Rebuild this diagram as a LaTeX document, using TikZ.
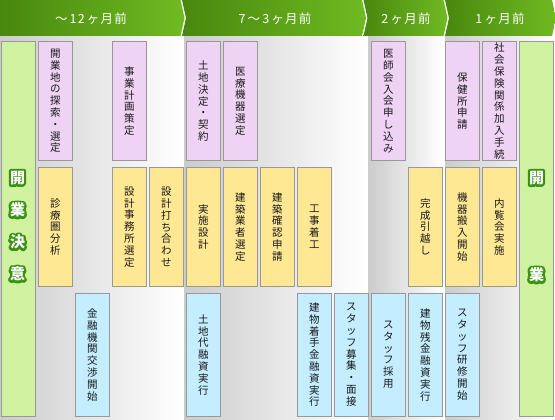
\documentclass[tikz,border=0pt]{standalone}
\usepackage{fontspec}
\newfontfamily\cjk{Noto Sans CJK JP}
\newfontfamily\gfat[BoldFeatures={FakeBold=30}]{Noto Sans CJK JP}
\newfontfamily\hdfont[LetterSpace=10]{Noto Sans CJK JP}
\definecolor{pinkc}{RGB}{239,211,245}
\definecolor{yelc}{RGB}{255,232,148}
\definecolor{bluec}{RGB}{196,238,255}
\definecolor{grnc}{RGB}{208,242,160}
\definecolor{bordc}{RGB}{152,152,152}
\definecolor{txtc}{RGB}{25,25,25}
\definecolor{hdl}{RGB}{72,136,14}
\definecolor{hdr}{RGB}{112,186,34}
\definecolor{panl}{RGB}{204,204,204}
\definecolor{olg}{RGB}{58,146,18}
\newcommand\olc[1]{\leavevmode\special{pdf:code 1 j 1 J}\rlap{\textcolor{olg}{\gfat\bfseries #1}}\textcolor{white}{\cjk\bfseries #1}}
\tikzset{
 box/.style={draw=bordc, line width=1.1pt, inner sep=0pt, minimum width=34.6pt,
   anchor=north west, align=center, font=\cjk\fontsize{10.5}{11.8}\selectfont, text=txtc},
 pinkbox/.style={box, fill=pinkc, minimum height=119.4pt},
 yelbox/.style={box, fill=yelc, minimum height=119.4pt},
 bluebox/.style={box, fill=bluec, minimum height=123.3pt},
 greenbox/.style={box, fill=grnc, minimum height=375pt},
 hdseg/.style={left color=hdl, right color=hdr},
 hdtext/.style={text=white, font=\hdfont\fontsize{12.5}{14}\selectfont, inner sep=0pt},
 gtext/.style={inner sep=0pt, font=\fontsize{15}{16}\selectfont},
 panel/.style={left color=panl, right color=white},
}
\begin{document}
\begin{tikzpicture}[x=1pt,y=-1pt]
\useasboundingbox (0,0) rectangle (555,420);
\fill[white] (0,0) rectangle (555,420);
% background panels
\path[panel] (0,37) rectangle (182.5,420);
\path[panel] (184,37) rectangle (366,420);
\path[panel] (368,37) rectangle (443.5,420);
\path[panel] (445,37) rectangle (555,420);
% header chevrons
\path[hdseg] (0,0) -- (180.5,0) -- (184.5,18) -- (180.5,36) -- (0,36) -- cycle;
\path[hdseg] (182,0) -- (362,0) -- (366,18) -- (362,36) -- (182,36) -- (186,18) -- cycle;
\path[hdseg] (363.5,0) -- (443.5,0) -- (447.5,18) -- (443.5,36) -- (363.5,36) -- (367.5,18) -- cycle;
\path[hdseg] (445,0) -- (552,0) -- (556,18) -- (552,36) -- (445,36) -- (449,18) -- cycle;
\node[hdtext] (h1) at (91,19) {～\,12\,ヶ月前};
\node[hdtext] (h2) at (275,19) {7\,～\,3\,ヶ月前};
\node[hdtext] (h3) at (406,19) {2\,ヶ月前};
\node[hdtext] (h4) at (500,19) {1\,ヶ月前};
% green columns
\node[greenbox] (gl) at (0.6,40.8) {};
\node[greenbox] (gr) at (518.6,40.8) {};
\node[gtext] (gl1) at (17.5,178) {\olc{開}};
\node[gtext] (gl2) at (17.5,210) {\olc{業}};
\node[gtext] (gl3) at (17.5,242) {\olc{決}};
\node[gtext] (gl4) at (17.5,274) {\olc{意}};
\node[gtext] (gr1) at (536.5,178) {\olc{開}};
\node[gtext] (gr2) at (536.5,275) {\olc{業}};
% pink row
\node[pinkbox] (p1) at (37.6,40.8) {開\\業\\地\\の\\探\\索\\・\\選\\定};
\node[pinkbox] (p3) at (111.6,40.8) {事\\業\\計\\画\\策\\定};
\node[pinkbox] (p5) at (185.6,40.8) {土\\地\\決\\定\\・\\契\\約};
\node[pinkbox] (p6) at (222.6,40.8) {医\\療\\機\\器\\選\\定};
\node[pinkbox] (p10) at (370.6,40.8) {医\\師\\会\\入\\会\\申\\し\\込\\み};
\node[pinkbox] (p12) at (444.6,40.8) {保\\健\\所\\申\\請};
\node[pinkbox] (p13) at (481.6,40.8) {社\\会\\保\\険\\関\\係\\加\\入\\手\\続};
% yellow row
\node[yelbox] (y1) at (37.6,166.6) {診\\療\\圏\\分\\析};
\node[yelbox] (y3) at (111.6,166.6) {設\\計\\事\\務\\所\\選\\定};
\node[yelbox] (y4) at (148.6,166.6) {設\\計\\打\\ち\\合\\わ\\せ};
\node[yelbox] (y5) at (185.6,166.6) {実\\施\\設\\計};
\node[yelbox] (y6) at (222.6,166.6) {建\\築\\業\\者\\選\\定};
\node[yelbox] (y7) at (259.6,166.6) {建\\築\\確\\認\\申\\請};
\node[yelbox] (y8) at (296.6,166.6) {工\\事\\着\\工};
\node[yelbox] (y11) at (407.6,166.6) {完\\成\\引\\越\\し};
\node[yelbox] (y12) at (444.6,166.6) {機\\器\\搬\\入\\開\\始};
\node[yelbox] (y13) at (481.6,166.6) {内\\覧\\会\\実\\施};
% blue row
\node[bluebox] (b2) at (74.6,292.6) {金\\融\\機\\関\\交\\渉\\開\\始};
\node[bluebox] (b5) at (185.6,292.6) {土\\地\\代\\融\\資\\実\\行};
\node[bluebox] (b8) at (296.6,292.6) {建\\物\\着\\手\\金\\融\\資\\実\\行};
\node[bluebox] (b9) at (333.6,292.6) {ス\\タ\\ッ\\フ\\募\\集\\・\\面\\接};
\node[bluebox] (b10) at (370.6,292.6) {ス\\タ\\ッ\\フ\\採\\用};
\node[bluebox] (b11) at (407.6,292.6) {建\\物\\残\\金\\融\\資\\実\\行};
\node[bluebox] (b12) at (444.6,292.6) {ス\\タ\\ッ\\フ\\研\\修\\開\\始};
\end{tikzpicture}
\end{document}
